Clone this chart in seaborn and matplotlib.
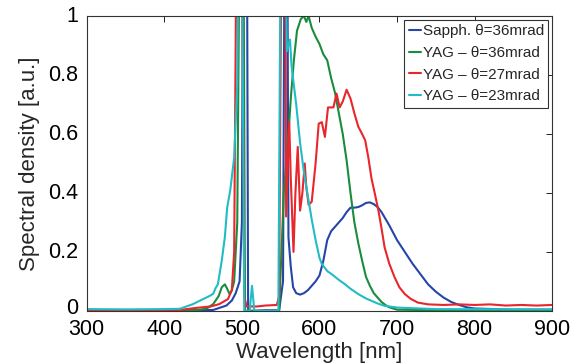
import numpy as np
import pandas as pd
import matplotlib
matplotlib.use("Agg")
import matplotlib.pyplot as plt
import matplotlib.transforms as mtransforms
import seaborn as sns

# Sapphire, theta = 36 mrad
wl_sapph = [300, 420, 463, 480, 487, 492, 497, 500, 501.5, 506.5, 508, 512, 530, 548, 553, 555, 558.5,
            560, 563, 566, 570, 575, 580, 585, 590, 595, 600, 605, 610, 615, 620, 625, 630, 635, 640,
            645, 650, 655, 660, 665, 670, 675, 680, 690, 700, 710, 720, 730, 740, 750, 760, 770, 780,
            790, 800, 850, 900]
sd_sapph = [0.002, 0.002, 0.003, 0.018, 0.035, 0.06, 0.1, 0.3, 1.3, 1.3, 0.0, 0.0, 0.002, 0.002, 0.1,
            1.3, 1.3, 0.25, 0.15, 0.08, 0.06, 0.055, 0.06, 0.07, 0.085, 0.1, 0.12, 0.17, 0.24, 0.27,
            0.285, 0.30, 0.315, 0.335, 0.35, 0.35, 0.352, 0.358, 0.366, 0.368, 0.362, 0.352, 0.335,
            0.29, 0.24, 0.2, 0.16, 0.125, 0.09, 0.065, 0.045, 0.03, 0.02, 0.012, 0.008, 0.004, 0.004]

# YAG, theta = 36 mrad
wl_yag36 = [300, 440, 454, 463, 470, 474, 478, 481, 484, 487, 490, 494, 497, 502, 504, 510, 548, 551,
            554, 557, 560, 563, 567, 571, 576, 580, 583, 586, 590, 595, 600, 605, 610, 615, 620, 625,
            630, 635, 640, 645, 650, 655, 660, 665, 670, 675, 680, 685, 690, 700, 750, 900]
sd_yag36 = [0.0, 0.002, 0.007, 0.023, 0.05, 0.08, 0.09, 0.075, 0.057, 0.07, 0.1, 0.3, 1.3, 1.3, 0.0,
            0.0, 0.0, 0.2, 0.4, 0.5, 0.6, 0.72, 0.85, 0.95, 0.99, 1.0, 0.98, 1.0, 0.96, 0.93, 0.905,
            0.87, 0.85, 0.79, 0.74, 0.67, 0.6, 0.51, 0.40, 0.30, 0.23, 0.17, 0.115, 0.085, 0.06, 0.045,
            0.03, 0.02, 0.012, 0.004, 0.002, 0.001]

# YAG, theta = 27 mrad
wl_yag27 = [300, 420, 441, 460, 471, 482, 487, 490, 493, 500, 503, 506, 520, 530, 545, 548, 551, 556,
            557, 561, 563, 566.5, 569, 572, 575, 578, 581, 583, 586, 590, 595, 599, 603, 607, 611, 618,
            622, 626, 630, 635, 640, 645, 650, 655, 659, 663, 667, 672, 676, 680, 684, 690, 697, 703,
            710, 718, 727, 740, 760, 780, 800, 820, 840, 860, 880, 900]
sd_yag27 = [0.002, 0.003, 0.01, 0.015, 0.023, 0.04, 0.07, 0.2, 1.3, 1.3, 0.05, 0.015, 0.015, 0.018,
            0.02, 0.05, 1.3, 1.3, 0.32, 0.64, 0.45, 0.2, 0.4, 0.556, 0.34, 0.4, 0.5, 0.42, 0.36, 0.37,
            0.5, 0.635, 0.64, 0.59, 0.69, 0.69, 0.737, 0.69, 0.71, 0.75, 0.72, 0.67, 0.625, 0.6, 0.578,
            0.52, 0.45, 0.39, 0.34, 0.28, 0.215, 0.16, 0.113, 0.08, 0.057, 0.04, 0.028, 0.022, 0.02,
            0.022, 0.02, 0.022, 0.018, 0.02, 0.018, 0.02]

# YAG, theta = 23 mrad
wl_yag23 = [300, 350, 400, 420, 437, 450, 458, 463, 466, 469, 474, 478, 481, 485, 490, 494, 496, 500,
            503, 510, 513, 516, 530, 547, 550, 556, 558, 562, 564, 570, 575, 580, 585, 590, 595, 600,
            603, 610, 616, 625, 633, 640, 650, 660, 667, 675, 684, 701, 750, 900]
sd_yag23 = [0.006, 0.005, 0.006, 0.007, 0.023, 0.04, 0.05, 0.058, 0.077, 0.09, 0.17, 0.25, 0.35, 0.41,
            0.52, 0.77, 1.3, 1.3, 0.0, 0.0, 0.085, 0.0, 0.0, 0.0, 1.3, 1.3, 0.88, 0.92, 0.83, 0.7,
            0.57, 0.47, 0.39, 0.31, 0.24, 0.18, 0.159, 0.135, 0.124, 0.105, 0.09, 0.075, 0.057, 0.042,
            0.034, 0.025, 0.017, 0.011, 0.006, 0.005]

labels = ["Sapph. \u03b8=36mrad", "YAG \u2013 \u03b8=36mrad", "YAG \u2013 \u03b8=27mrad", "YAG \u2013 \u03b8=23mrad"]
colors = ["#2546a8", "#1a8c3c", "#e8262c", "#22bcc4"]

series = [(wl_sapph, sd_sapph), (wl_yag36, sd_yag36), (wl_yag27, sd_yag27), (wl_yag23, sd_yag23)]

sns.set_style("white")
plt.rcParams['font.family'] = ['Liberation Sans', 'DejaVu Sans']

fig = plt.figure(figsize=(5.71, 3.64), dpi=100)
ax = fig.add_axes([0.152, 0.146, 0.815, 0.810])

for (wl, sd), lab, col in zip(series, labels, colors):
    df = pd.DataFrame({"wl": wl, "sd": sd})
    sns.lineplot(data=df, x="wl", y="sd", ax=ax, color=col, label=lab, linewidth=1.5,
                 estimator=None, sort=False)

ax.set_xlim(300, 900)
ax.set_ylim(0, 1)
ax.set_xticks([300, 400, 500, 600, 700, 800, 900])
ax.set_yticks([0, 0.2, 0.4, 0.6, 0.8, 1])
ax.set_yticklabels(["0", "0.2", "0.4", "0.6", "0.8", "1"])
ax.tick_params(direction="in", length=4, width=0.6, top=True, right=True, labelsize=15.5,
               colors="black")
ax.tick_params(axis="x", pad=6)
ax.tick_params(axis="y", pad=6)
# nudge y tick labels up a little, the "0" a bit more (as in the original)
for i, t in enumerate(ax.get_yticklabels()):
    dy = 5 if i == 0 else 2
    t.set_transform(t.get_transform() + mtransforms.ScaledTranslation(0, dy / 100, fig.dpi_scale_trans))
for s in ax.spines.values():
    s.set_color("#333333")
    s.set_linewidth(0.8)
ax.set_xlabel("Wavelength [nm]", fontsize=16, labelpad=1)
ax.set_ylabel("Spectral density [a.u.]", fontsize=16, labelpad=6)

leg = ax.legend(loc="upper right", fontsize=11, handlelength=0.8, handletextpad=0.1,
                borderpad=0.3, labelspacing=0.5, borderaxespad=0.25, fancybox=False, framealpha=1)
leg.get_frame().set_edgecolor("#333333")
leg.get_frame().set_linewidth(0.8)

fig.savefig("out.png", dpi=100)
